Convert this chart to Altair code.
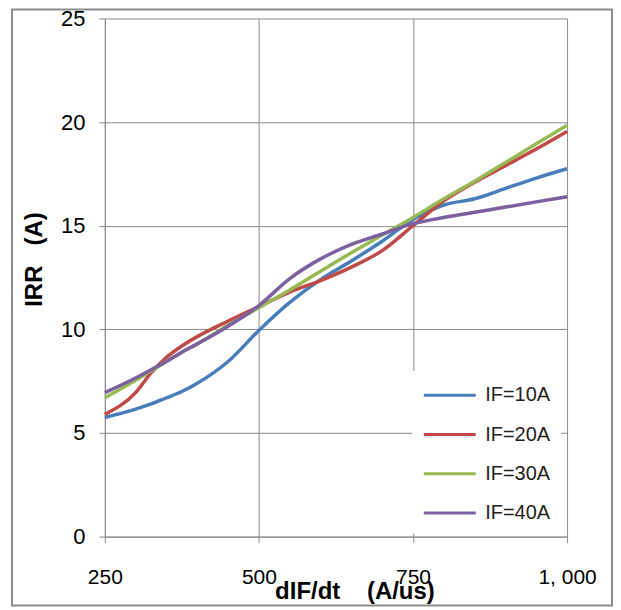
import altair as alt
import pandas as pd

x_vals = [250, 300, 325, 350, 375, 400, 450, 500, 550, 600, 650, 700, 750, 800, 850, 900, 950, 1000]
if10 = [5.75, 6.15, 6.4, 6.7, 7.0, 7.4, 8.45, 9.95, 11.3, 12.4, 13.3, 14.25, 15.3, 16.0, 16.3, 16.8, 17.3, 17.75]
if20 = [5.9, 6.95, 7.9, 8.65, 9.2, 9.65, 10.4, 11.1, 11.8, 12.35, 13.0, 13.8, 15.0, 16.2, 17.1, 17.9, 18.7, 19.55]
if30 = [6.7, 7.55, 8.0, 8.45, 8.9, 9.3, 10.2, 11.05, 11.9, 12.8, 13.7, 14.55, 15.4, 16.3, 17.15, 18.05, 18.95, 19.85]
if40 = [6.95, 7.65, 8.05, 8.45, 8.9, 9.3, 10.15, 11.15, 12.45, 13.4, 14.1, 14.6, 15.1, 15.4, 15.65, 15.9, 16.15, 16.4]
series_names = ["IF=10A", "IF=20A", "IF=30A", "IF=40A"]
series_colors = ["#4A7EBB", "#BE4B48", "#98B954", "#7D60A0"]
x_ticks = [250, 500, 750, 1000]
y_ticks = [0, 5, 10, 15, 20, 25]

rows = []
for name, ys in zip(series_names, [if10, if20, if30, if40]):
    for xv, yv in zip(x_vals, ys):
        rows.append({"dIF": xv, "IRR": yv, "series": name})
df = pd.DataFrame(rows)

W, H = 463, 519
GRID = "#8a8a8a"
NB = "\u00a0"

lines = alt.Chart(df).mark_line(interpolate="monotone", strokeWidth=3.5).encode(
    x=alt.X("dIF:Q", scale=alt.Scale(domain=[250, 1000], nice=False, zero=False),
            axis=alt.Axis(values=x_ticks, title="dIF/dt" + NB * 4 + "(A/us)",
                          labelExpr="datum.value == 1000 ? '1, 000' : datum.label",
                          labelFont="Liberation Sans", labelFontSize=21, labelColor="#000000",
                          labelPadding=24, tickSize=6, tickColor=GRID, domainColor=GRID,
                          gridColor=GRID, titleFont="Liberation Sans", titleFontSize=24,
                          titleFontWeight="bold", titleColor="#000000",
                          titleX=250, titleY=62, titleAlign="center", titleBaseline="alphabetic",
                          labelFlush=False)),
    y=alt.Y("IRR:Q", scale=alt.Scale(domain=[0, 25], nice=False),
            axis=alt.Axis(values=y_ticks, title="IRR" + NB * 3 + "(A)",
                          labelFont="Liberation Sans", labelFontSize=22, labelColor="#000000",
                          labelPadding=14, tickSize=6, tickColor=GRID, domainColor=GRID,
                          gridColor=GRID, titleFont="Liberation Sans", titleFontSize=24,
                          titleFontWeight="bold", titleColor="#000000",
                          titleX=-70, titleY=241, titleAngle=270, titleAlign="center",
                          titleBaseline="middle")),
    color=alt.Color("series:N",
                    scale=alt.Scale(domain=series_names, range=series_colors),
                    legend=alt.Legend(title=None, orient="none", legendX=308, legendY=353,
                                      fillColor="#ffffff", padding=10,
                                      symbolType="M-2,0L2,0", symbolSize=676,
                                      symbolOffset=13,
                                      symbolStrokeWidth=3, labelFont="Liberation Sans",
                                      labelFontSize=20, labelColor="#222222",
                                      rowPadding=14.3, labelOffset=21)),
)

border = alt.Chart(pd.DataFrame({"a": [0]})).mark_rect(
    fill=None, stroke="#8c8c8c", strokeWidth=2
).encode(
    x=alt.value(-93), x2=alt.value(508), y=alt.value(-9), y2=alt.value(588)
)

chart = alt.layer(border, lines).properties(
    width=W, height=H,
    autosize=alt.AutoSizeParams(type="none"),
    padding={"left": 97, "top": 10, "right": 46, "bottom": 70},
).configure_view(stroke=None).configure_axis(gridWidth=1, domainWidth=1)

chart.save("out.html", embed_options={"renderer": "svg", "actions": False})
